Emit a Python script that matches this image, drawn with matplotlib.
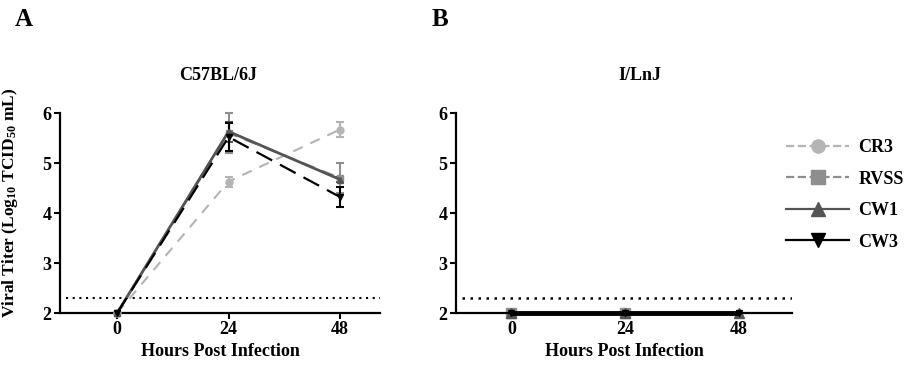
import matplotlib
matplotlib.use("Agg")
import matplotlib.pyplot as plt
from matplotlib.lines import Line2D

plt.rcParams['font.family'] = ['Liberation Serif', 'DejaVu Serif']
plt.rcParams['font.weight'] = 'bold'
plt.rcParams['mathtext.fontset'] = 'custom'
plt.rcParams['mathtext.rm'] = 'Liberation Serif:bold'
plt.rcParams['mathtext.default'] = 'rm'

# data
hours = [0, 24, 48]
strains = ['CR3', 'RVSS', 'CW1', 'CW3']

# C57BL/6J
b6_mean = {
    'CR3': [2.0, 4.63, 5.67],
    'RVSS': [2.0, 5.60, 4.70],
    'CW1': [2.0, 5.63, 4.67],
    'CW3': [2.0, 5.52, 4.32],
}
b6_err = {
    'CR3': [0, 0.10, 0.15],
    'RVSS': [0, 0.40, 0.30],
    'CW1': [0, 0.20, 0.05],
    'CW3': [0, 0.28, 0.20],
}

# I/LnJ (all at detection floor)
lnj_hours = {'CR3': [0, 24], 'RVSS': [0, 24], 'CW1': [0, 24, 48], 'CW3': [0, 24, 48]}
lnj_mean = {'CR3': [2.0, 2.0], 'RVSS': [2.0, 2.0], 'CW1': [2.0, 2.0, 2.0], 'CW3': [2.0, 2.0, 2.0]}

detect_limit = 2.3

colors = {'CR3': '#b4b4b4', 'RVSS': '#8e8e8e', 'CW1': '#555555', 'CW3': '#000000'}
markers = {'CR3': 'o', 'RVSS': 's', 'CW1': '^', 'CW3': 'v'}
styles = {'CR3': (0, (5, 4)), 'RVSS': (0, (6, 4)), 'CW1': '-', 'CW3': (0, (8, 4))}
widths = {'CR3': 1.5, 'RVSS': 1.5, 'CW1': 2.0, 'CW3': 1.6}

fig = plt.figure(figsize=(9.23, 3.73), dpi=100)
ax1 = fig.add_axes([60/923, 1-313/373, 320/923, 200/373])
ax2 = fig.add_axes([456/923, 1-313/373, 336/923, 200/373])


def style_axis(ax, xlim):
    ax.set_xlim(*xlim)
    ax.set_ylim(2, 6)
    ax.set_xticks(hours)
    ax.set_yticks([2, 3, 4, 5, 6])
    for s in ['top', 'right']:
        ax.spines[s].set_visible(False)
    for s in ['left', 'bottom']:
        ax.spines[s].set_linewidth(1.6)
    ax.tick_params(direction='out', length=4, width=1.5, labelsize=13, pad=2)
    for lab in ax.get_xticklabels() + ax.get_yticklabels():
        lab.set_fontweight('bold')
    ax.set_xlabel('Hours Post Infection', fontsize=13, fontweight='bold', labelpad=3)


# panel A
for s in strains:
    ax1.errorbar(hours, b6_mean[s], yerr=b6_err[s], color=colors[s],
                 marker=markers[s], markersize=5, linestyle=styles[s],
                 linewidth=widths[s], capsize=3, capthick=1.5, elinewidth=1.5,
                 clip_on=False, zorder=3)
style_axis(ax1, (-12.3, 56.6))
ax1.hlines(detect_limit, -11, 56.6, colors='black', linestyles=(0, (1, 2.2)), linewidth=1.5)
ax1.set_ylabel(r'Viral Titer (Log$_{10}$ TCID$_{50}$ mL)', fontsize=12.5,
               fontweight='bold', labelpad=3)
ax1.yaxis.set_label_coords(-0.125, 0.55)

# panel B
for s in strains:
    if s == 'CW3':
        ax2.plot(lnj_hours[s], lnj_mean[s], color=colors[s], marker=markers[s],
                 markersize=5, linestyle='none', clip_on=False, zorder=3)
        ax2.plot(lnj_hours[s], lnj_mean[s], color=colors[s], linestyle='-',
                 linewidth=3.5, solid_capstyle='butt', clip_on=False, zorder=5)
    else:
        ax2.plot(lnj_hours[s], lnj_mean[s], color=colors[s], marker=markers[s],
                 markersize=6.5, linestyle='-', linewidth=widths[s], clip_on=False,
                 zorder=2)
style_axis(ax2, (-11.7, 59.3))
ax2.hlines(detect_limit, -10.5, 59.3, colors='black', linestyles=(0, (1, 2.2)), linewidth=1.8)

fig.text(15/923, 1-20/373, 'A', fontsize=18, fontweight='bold', va='center')
fig.text(432/923, 1-20/373, 'B', fontsize=18, fontweight='bold', va='center')
fig.text(218/923, 1-76/373, 'C57BL/6J', fontsize=13, fontweight='bold', ha='center', va='center')
fig.text(640/923, 1-76/373, 'I/LnJ', fontsize=13, fontweight='bold', ha='center', va='center')

handles = [Line2D([], [], color=colors[s], marker=markers[s], markersize=9.5,
                  linestyle=('--' if s in ('CR3', 'RVSS') else '-'),
                  linewidth=1.6) for s in strains]
fig.legend(handles, strains, loc='upper left', bbox_to_anchor=(770/923, 1-123/373),
           frameon=False, handlelength=3.5, labelspacing=0.8,
           handletextpad=0.5, prop={'weight': 'bold', 'size': 13})

fig.savefig('out.png', dpi=100)
